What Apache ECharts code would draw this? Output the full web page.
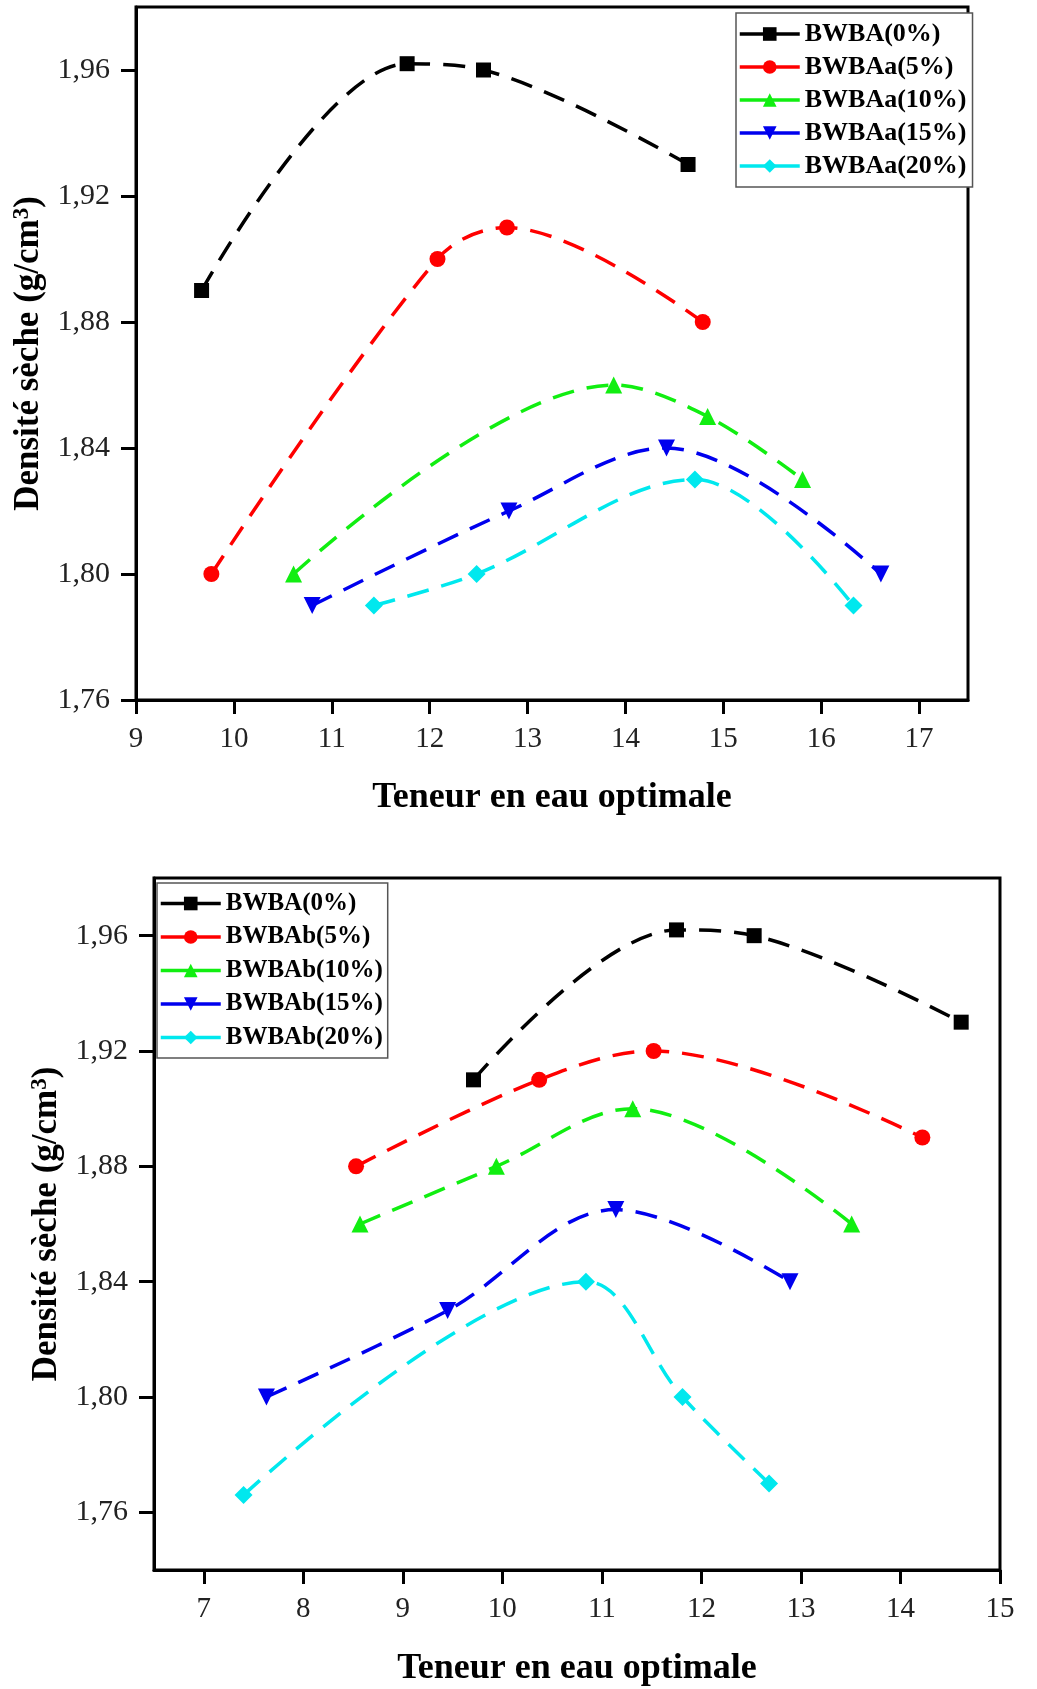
<!DOCTYPE html>
<html><head><meta charset="utf-8">
<script src="https://cdn.jsdelivr.net/npm/echarts@6/dist/echarts.min.js"></script>
<style>html,body{margin:0;padding:0;background:#fff}#c{width:1037px;height:1689px}</style>
</head><body><div id="c"></div>
<script>
// ---------- data ----------
const namesA = ['BWBA(0%)', 'BWBAa(5%)', 'BWBAa(10%)', 'BWBAa(15%)', 'BWBAa(20%)'];
const namesB = ['BWBA(0%)', 'BWBAb(5%)', 'BWBAb(10%)', 'BWBAb(15%)', 'BWBAb(20%)'];

// upper chart
const a0x = [9.67, 11.77, 12.55, 14.64];
const a0y = [1.89, 1.962, 1.96, 1.93];
const a5x = [9.77, 12.08, 12.79, 14.79];
const a5y = [1.80, 1.90, 1.91, 1.88];
const a10x = [10.61, 13.88, 14.84, 15.81];
const a10y = [1.80, 1.86, 1.85, 1.83];
const a15x = [10.80, 12.81, 14.42, 16.61];
const a15y = [1.79, 1.82, 1.84, 1.80];
const a20x = [11.43, 12.48, 14.71, 16.33];
const a20y = [1.79, 1.80, 1.83, 1.79];

// lower chart
const b0x = [9.71, 11.75, 12.53, 14.61];
const b0y = [1.91, 1.962, 1.96, 1.93];
const b5x = [8.53, 10.37, 11.52, 14.22];
const b5y = [1.88, 1.91, 1.92, 1.89];
const b10x = [8.57, 9.94, 11.31, 13.51];
const b10y = [1.86, 1.88, 1.90, 1.86];
const b15x = [7.63, 9.45, 11.14, 12.89];
const b15y = [1.80, 1.83, 1.865, 1.84];
const b20x = [7.40, 10.84, 11.81, 12.68];
const b20y = [1.766, 1.84, 1.80, 1.77];

// tick labels
const xTicksA = [9, 10, 11, 12, 13, 14, 15, 16, 17];
const xTicksB = [7, 8, 9, 10, 11, 12, 13, 14, 15];
const yTicks = [1.76, 1.80, 1.84, 1.88, 1.92, 1.96];

const yTitle = 'Densité sèche (g/cm{sup|3})';
const xTitle = 'Teneur en eau optimale';

// ---------- styling ----------
const colors = ['#000000', '#ff0000', '#11ee11', '#0000ee', '#00e8ee'];
const symbols = ['rect', 'circle', 'triangle', 'triangle', 'diamond'];
const symRot = [0, 0, 0, 180, 0];
const symSize = [15, 16, 17, 17, 18];
const SERIF = '"Liberation Serif", "Times New Roman", serif';

function zip(xs, ys) { return xs.map((x, i) => [x, ys[i]]); }
function fmtY(v) { return v.toFixed(2).replace('.', ','); }

function xAxisCfg(idx, min, max, ticks, gap) {
  return {
    type: 'value', gridIndex: idx, min: min, max: max, interval: 1,
    name: xTitle, nameLocation: 'middle', nameGap: gap,
    nameTextStyle: { fontFamily: SERIF, fontWeight: 'bold', fontSize: 36, color: '#000' },
    axisLine: { show: true, onZero: false, lineStyle: { color: '#000', width: 3 } },
    axisTick: { show: true, customValues: ticks, length: 14, lineStyle: { color: '#000', width: 3 } },
    axisLabel: { customValues: ticks, margin: 25, fontFamily: SERIF, fontSize: 29, color: '#222' },
    splitLine: { show: false }
  };
}
function yAxisCfg(idx, min, max, gap) {
  return {
    type: 'value', gridIndex: idx, min: min, max: max,
    name: yTitle, nameLocation: 'middle', nameGap: gap, nameRotate: 90,
    nameTextStyle: {
      fontFamily: SERIF, fontWeight: 'bold', fontSize: 35, color: '#000',
      rich: { sup: { fontFamily: SERIF, fontWeight: 'bold', fontSize: 23, color: '#000', verticalAlign: 'top', padding: [0, 0, 14, 0] } }
    },
    axisLine: { show: true, onZero: false, lineStyle: { color: '#000', width: 3 } },
    axisTick: { show: true, customValues: yTicks, length: 15, lineStyle: { color: '#000', width: 3 } },
    axisLabel: { customValues: yTicks, margin: 26, fontFamily: SERIF, fontSize: 30, color: '#222',
                 formatter: fmtY },
    splitLine: { show: false }
  };
}

function makeSeries(names, sets, axisIdx) {
  return sets.map((d, i) => ({
    type: 'line', name: names[i], xAxisIndex: axisIdx, yAxisIndex: axisIdx,
    data: d, smooth: 0.35,
    symbol: symbols[i], symbolSize: symSize[i], symbolRotate: symRot[i],
    showAllSymbol: true,
    lineStyle: { color: colors[i], width: 3.5, type: [22, 13] },
    itemStyle: { color: colors[i] },
    z: 10 - i
  }));
}

const seriesA = makeSeries(namesA, [zip(a0x, a0y), zip(a5x, a5y), zip(a10x, a10y), zip(a15x, a15y), zip(a20x, a20y)], 0);
const seriesB = makeSeries(namesB, [zip(b0x, b0y), zip(b5x, b5y), zip(b10x, b10y), zip(b15x, b15y), zip(b20x, b20y)], 1);

function legendCfg(names, left, top, pad, fs, gap) {
  return {
    data: names, orient: 'vertical', left: left, top: top,
    padding: pad, itemWidth: 60, itemHeight: 17, itemGap: gap,
    borderColor: '#555', borderWidth: 1.5, backgroundColor: '#fff',
    lineStyle: { type: 'solid', width: 3.5 },
    textStyle: { fontFamily: SERIF, fontWeight: 'bold', fontSize: fs, color: '#000' },
    selectedMode: false
  };
}

const chart = echarts.init(document.getElementById('c'), null, { renderer: 'canvas' });
chart.setOption({
  backgroundColor: '#fff',
  animation: false,
  grid: [
    { left: 136, top: 7, width: 832, height: 693, show: true, borderColor: '#000', borderWidth: 3, backgroundColor: 'transparent' },
    { left: 154, top: 878, width: 846, height: 692, show: true, borderColor: '#000', borderWidth: 3, backgroundColor: 'transparent' }
  ],
  xAxis: [xAxisCfg(0, 9, 17.5, xTicksA, 80), xAxisCfg(1, 6.5, 15, xTicksB, 81)],
  yAxis: [yAxisCfg(0, 1.76, 1.98, 88), yAxisCfg(1, 1.74, 1.98, 88)],
  legend: [
    legendCfg(namesA, 736, 13, [8, 6, 8, 2], 26, 7),
    legendCfg(namesB, 157, 883, [8, 5, 8, 2], 25, 8.5)
  ],
  series: seriesA.concat(seriesB)
});
</script>
</body></html>
